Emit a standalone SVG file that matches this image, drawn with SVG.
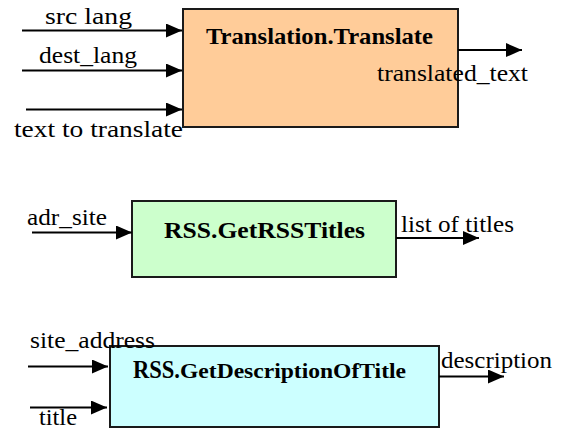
<svg xmlns="http://www.w3.org/2000/svg" width="561" height="429" viewBox="0 0 561 429">
  <defs>
    <marker id="arrow" markerUnits="userSpaceOnUse" markerWidth="16" markerHeight="14" refX="16" refY="7" orient="auto">
      <path d="M0,0 L16,7 L0,14 Z" fill="#000"/>
    </marker>
  </defs>
  <style>
    .box { stroke: #1a1a1a; stroke-width: 2; }
    .title { font-family: 'Liberation Serif', Tinos, 'DejaVu Serif', serif; font-weight: bold; font-size: 24px; fill: #000; }
    .lbl { font-family: 'Liberation Serif', Tinos, 'DejaVu Serif', serif; font-size: 24px; fill: #000; }
    .wire { stroke: #000; stroke-width: 2; fill: none; marker-end: url(#arrow); }
  </style>
  <rect width="561" height="429" fill="#fff"/>

  <!-- service blocks -->
  <g id="translate">
    <rect class="box" x="183" y="9" width="275" height="118" fill="#FFCC99"/>
    <text class="title" font-family="Liberation Serif, serif" x="206" y="44" textLength="227" lengthAdjust="spacingAndGlyphs">Translation.Translate</text>
  </g>
  <g id="get-rss-titles">
    <rect class="box" x="132" y="201" width="264" height="76" fill="#CCFFCC"/>
    <text class="title" font-family="Liberation Serif, serif" x="164" y="238" textLength="201" lengthAdjust="spacingAndGlyphs">RSS.GetRSSTitles</text>
  </g>
  <g id="get-description">
    <rect class="box" x="110" y="346" width="329" height="81" fill="#CCFFFF"/>
    <text class="title" font-family="Liberation Serif, serif" x="133" y="378"><tspan font-size="25" textLength="47" lengthAdjust="spacingAndGlyphs">RSS.</tspan><tspan font-size="21" textLength="226" lengthAdjust="spacingAndGlyphs">GetDescriptionOfTitle</tspan></text>
  </g>

  <!-- inputs and outputs -->
  <g id="connectors">
    <line class="wire" x1="22" y1="30.5" x2="182" y2="30.5"/>
    <line class="wire" x1="22" y1="70.5" x2="182" y2="70.5"/>
    <line class="wire" x1="26" y1="109.5" x2="182" y2="109.5"/>
    <line class="wire" x1="458" y1="50" x2="522" y2="50"/>
    <line class="wire" x1="32" y1="232.5" x2="132" y2="232.5"/>
    <line class="wire" x1="396" y1="238" x2="479" y2="238"/>
    <line class="wire" x1="28" y1="366.5" x2="108" y2="366.5"/>
    <line class="wire" x1="30" y1="407.5" x2="107" y2="407.5"/>
    <line class="wire" x1="439" y1="376.5" x2="504" y2="376.5"/>
  </g>

  <g id="labels" font-family="Liberation Serif, serif">
    <text class="lbl" x="45" y="24" textLength="87" lengthAdjust="spacingAndGlyphs">src lang</text>
    <text class="lbl" x="39" y="63" textLength="98" lengthAdjust="spacingAndGlyphs">dest_lang</text>
    <text class="lbl" x="14" y="137" textLength="169" lengthAdjust="spacingAndGlyphs">text to translate</text>
    <text class="lbl" x="377" y="81" textLength="151" lengthAdjust="spacingAndGlyphs">translated_text</text>
    <text class="lbl" x="27" y="225" textLength="80" lengthAdjust="spacingAndGlyphs">adr_site</text>
    <text class="lbl" x="401" y="232" textLength="113" lengthAdjust="spacingAndGlyphs">list of titles</text>
    <text class="lbl" x="30" y="348" textLength="125" lengthAdjust="spacingAndGlyphs">site_address</text>
    <text class="lbl" x="39" y="425" textLength="38" lengthAdjust="spacingAndGlyphs">title</text>
    <text class="lbl" x="441" y="368" textLength="111" lengthAdjust="spacingAndGlyphs">description</text>
  </g>
</svg>
